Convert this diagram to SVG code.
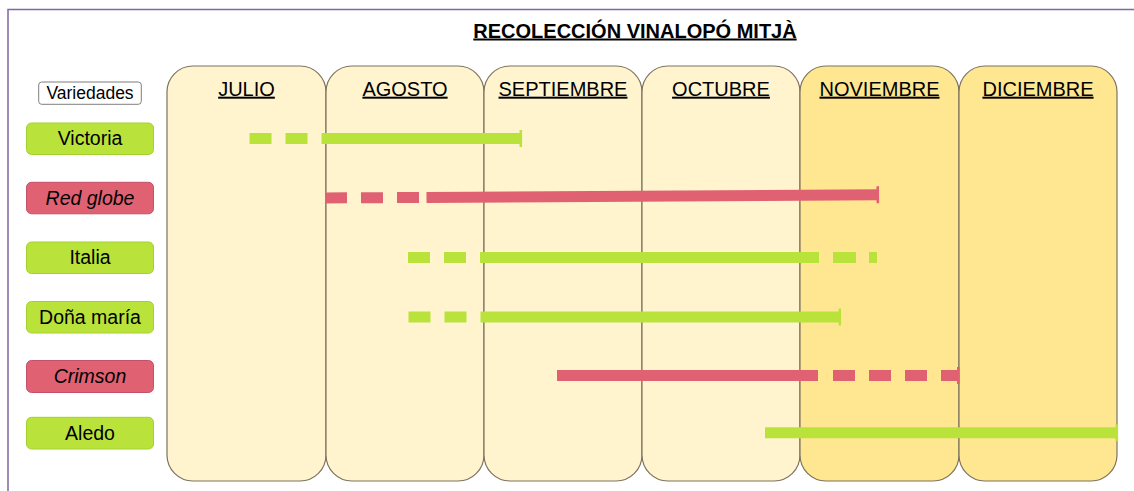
<svg xmlns="http://www.w3.org/2000/svg" width="1134" height="491" viewBox="0 0 1134 491">
<style>
text{font-family:"Liberation Sans",Arial,sans-serif;fill:#000}
.title{font-size:20px;font-weight:bold;text-decoration:underline}
.month{font-size:20px;text-decoration:underline}
.lbl{font-size:19.5px}
.it{font-style:italic}
.col{stroke:#7d735f;stroke-width:1.2}
.light{fill:#fff4ce}
.dark{fill:#ffe791}
.gbox{fill:#b9e33b;stroke:#a3d12f;stroke-width:1}
.rbox{fill:#e06272;stroke:#c4506a;stroke-width:1}
.bar{fill:none;stroke-width:11}
.g{stroke:#b9e33b}
.r{stroke:#e06272}
</style>
<defs>
<marker id="tg" markerUnits="userSpaceOnUse" markerWidth="4" markerHeight="18" refX="2" refY="9" orient="auto" viewBox="0 0 4 18"><rect x="0.5" y="0.5" width="2.6" height="17" fill="#b9e33b"/></marker>
<marker id="tr" markerUnits="userSpaceOnUse" markerWidth="4" markerHeight="18" refX="2" refY="9" orient="auto" viewBox="0 0 4 18"><rect x="0.5" y="0.5" width="2.6" height="17" fill="#e06272"/></marker>
</defs>
<rect x="8" y="9.5" width="1140" height="500" fill="#ffffff" stroke="#8066a3" stroke-width="1.5"/>
<text class="title" x="635" y="37.5" text-anchor="middle">RECOLECCIÓN VINALOPÓ MITJÀ</text>

<g id="columns">
<g id="col-julio"><rect class="col light" x="167" y="66" width="159" height="415" rx="26"/><text class="month" x="246.5" y="95.7" text-anchor="middle">JULIO</text></g>
<g id="col-agosto"><rect class="col light" x="326" y="66" width="158" height="415" rx="26"/><text class="month" x="405" y="95.7" text-anchor="middle">AGOSTO</text></g>
<g id="col-septiembre"><rect class="col light" x="484" y="66" width="158" height="415" rx="26"/><text class="month" x="563" y="95.7" text-anchor="middle">SEPTIEMBRE</text></g>
<g id="col-octubre"><rect class="col light" x="642" y="66" width="158" height="415" rx="26"/><text class="month" x="721" y="95.7" text-anchor="middle">OCTUBRE</text></g>
<g id="col-noviembre"><rect class="col dark" x="800" y="66" width="159" height="415" rx="26"/><text class="month" x="879.5" y="95.7" text-anchor="middle">NOVIEMBRE</text></g>
<g id="col-diciembre"><rect class="col dark" x="959" y="66" width="158" height="415" rx="26"/><text class="month" x="1038" y="95.7" text-anchor="middle">DICIEMBRE</text></g>
</g>

<g id="variedades"><rect x="38.7" y="82" width="102.6" height="22.3" rx="3" fill="#ffffff" stroke="#7f7f7f" stroke-width="1"/><text x="90" y="99.3" text-anchor="middle" style="font-size:17.5px">Variedades</text></g>
<g id="victoria"><rect class="gbox" x="26.5" y="123" width="127" height="31.5" rx="5"/><text class="lbl" x="90" y="145.3" text-anchor="middle">Victoria</text></g>
<g id="red-globe"><rect class="rbox" x="26.5" y="182.3" width="127" height="31.5" rx="5"/><text class="lbl it" x="90" y="204.6" text-anchor="middle">Red globe</text></g>
<g id="italia"><rect class="gbox" x="26.5" y="242" width="127" height="31.5" rx="5"/><text class="lbl" x="90" y="264.3" text-anchor="middle">Italia</text></g>
<g id="dona-maria"><rect class="gbox" x="26.5" y="301.5" width="127" height="31.5" rx="5"/><text class="lbl" x="90" y="323.8" text-anchor="middle">Doña maría</text></g>
<g id="crimson"><rect class="rbox" x="26.5" y="360.5" width="127" height="32" rx="5"/><text class="lbl it" x="90" y="383.1" text-anchor="middle">Crimson</text></g>
<g id="aledo"><rect class="gbox" x="26.5" y="417.3" width="127" height="31.7" rx="5"/><text class="lbl" x="90" y="439.8" text-anchor="middle">Aledo</text></g>

<g id="connectors">
<path class="bar g" d="M249.5 138.5 L521 138.5" stroke-dasharray="22 14 22 14 1000" marker-end="url(#tg)"/>
<path class="bar r" d="M325 198 L878 194.8" stroke-dasharray="22 14 22 14 22 7.5 1000" marker-end="url(#tr)"/>
<path class="bar g" d="M408 257.5 L877 257.5" stroke-dasharray="22 14 22 14 339 14 23 13 8 100"/>
<path class="bar g" d="M408.5 317 L840 317" stroke-dasharray="22 14 22 14 1000" marker-end="url(#tg)"/>
<path class="bar r" d="M557 375.5 L958.5 375.5" stroke-dasharray="261 15 22 14 22 14 22 14 1000" marker-end="url(#tr)"/>
<path class="bar g" d="M765 432.7 L1117 432.7" marker-end="url(#tg)"/>
</g>
</svg>
